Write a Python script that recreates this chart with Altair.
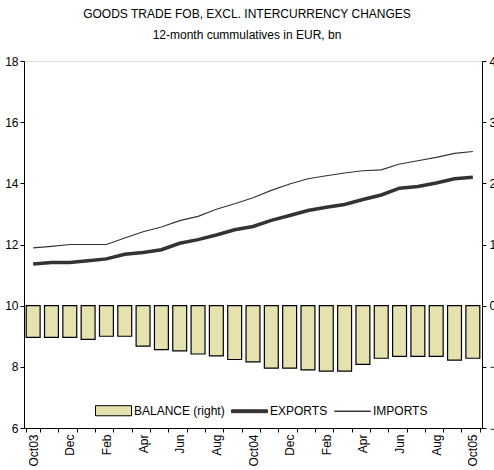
import altair as alt
import pandas as pd

months = ["Oct03", "Nov03", "Dec03", "Jan04", "Feb04", "Mar04", "Apr04", "May04",
          "Jun04", "Jul04", "Aug04", "Sep04", "Oct04", "Nov04", "Dec04", "Jan05",
          "Feb05", "Mar05", "Apr05", "May05", "Jun05", "Jul05", "Aug05", "Sep05", "Oct05"]
tick_labels = ["Oct03", "", "Dec", "", "Feb", "", "Apr", "", "Jun", "", "Aug", "",
               "Oct04", "", "Dec", "", "Feb", "", "Apr", "", "Jun", "", "Aug", "", "Oct05"]
exports = [11.36, 11.41, 11.41, 11.47, 11.53, 11.68, 11.74, 11.83, 12.04, 12.16, 12.31, 12.48,
           12.59, 12.79, 12.95, 13.11, 13.22, 13.31, 13.47, 13.62, 13.84, 13.90, 14.01, 14.15, 14.20]
imports = [11.89, 11.94, 12.00, 12.00, 12.00, 12.21, 12.42, 12.57, 12.78, 12.92, 13.15, 13.33,
           13.53, 13.77, 13.98, 14.15, 14.25, 14.34, 14.41, 14.44, 14.63, 14.74, 14.85, 14.98, 15.04]
balance = [-0.52, -0.52, -0.52, -0.55, -0.50, -0.50, -0.66, -0.72, -0.74, -0.79, -0.82, -0.88,
           -0.92, -1.02, -1.02, -1.05, -1.07, -1.07, -0.96, -0.86, -0.83, -0.83, -0.83, -0.89, -0.86]
series_names = ["BALANCE (right)", "EXPORTS", "IMPORTS"]
left_ticks = [6, 8, 10, 12, 14, 16, 18]
right_ticks = [-2, -1, 0, 1, 2, 3, 4]

rows = []
for i, m in enumerate(months):
    rows.append({"idx": i, "month": m, "series": series_names[0], "value": balance[i]})
    rows.append({"idx": i, "month": m, "series": series_names[1], "value": exports[i]})
    rows.append({"idx": i, "month": m, "series": series_names[2], "value": imports[i]})
df = pd.DataFrame(rows)

FONT = "Liberation Sans"
BAR_FILL = "#E6E2B0"
LINE_COLOR = "#333333"

label_expr = "[" + ",".join("'%s'" % t for t in tick_labels) + "][datum.value]"

x_enc = alt.X(
    "idx:O",
    scale=alt.Scale(paddingInner=0.24, paddingOuter=0.12),
    axis=alt.Axis(title=None, labelExpr=label_expr, labelAngle=270, labelAlign="right",
                  labelBaseline="middle", tickBand="extent", tickSize=4, labelPadding=2,
                  domainColor="black", tickColor="black", labelColor="black",
                  labelFont=FONT, labelFontSize=12, grid=False),
)

bars = alt.Chart(df).transform_filter(
    alt.datum.series == series_names[0]
).mark_bar(fill=BAR_FILL, stroke="black", strokeWidth=1.2).encode(
    x=x_enc,
    y=alt.Y("value:Q", scale=alt.Scale(domain=[-2, 4], nice=False, zero=False),
            axis=alt.Axis(orient="right", values=right_ticks, title=None, grid=False,
                          tickSize=4, labelPadding=3, domainColor="black", tickColor="black",
                          labelColor="black", labelFont=FONT, labelFontSize=12)),
)

lines = alt.Chart(df).transform_filter(
    alt.datum.series != series_names[0]
).mark_line(color=LINE_COLOR).encode(
    x=x_enc,
    y=alt.Y("value:Q", scale=alt.Scale(domain=[6, 18], nice=False, zero=False),
            axis=alt.Axis(orient="left", values=left_ticks, title=None, grid=False,
                          tickSize=4, labelPadding=2, domainColor="black", tickColor="black",
                          labelColor="black", labelFont=FONT, labelFontSize=12)),
    detail="series:N",
    strokeWidth=alt.StrokeWidth("series:N",
                                scale=alt.Scale(domain=series_names[1:], range=[3.5, 1.1]),
                                legend=None),
)

legend_def = alt.Legend(
    title=None, orient="none", legendX=71, legendY=331, direction="horizontal", columns=3,
    symbolSize=1296, symbolStrokeWidth=1, symbolOpacity=1,
    labelFont=FONT, labelFontSize=12, labelColor="black", labelOffset=2, columnPadding=4,
    padding=0, labelLimit=300,
)

leg = alt.Chart(df).mark_point(opacity=0, strokeWidth=1).encode(
    x=alt.value(0),
    y=alt.value(0),
    fill=alt.Fill("series:N",
                  scale=alt.Scale(domain=series_names, range=[BAR_FILL, LINE_COLOR, LINE_COLOR]),
                  legend=legend_def),
    stroke=alt.Stroke("series:N",
                      scale=alt.Scale(domain=series_names, range=["#000000", LINE_COLOR, LINE_COLOR]),
                      legend=legend_def),
    shape=alt.Shape("series:N",
                    scale=alt.Scale(domain=series_names,
                                    range=["M-1,-0.28H1V0.28H-1Z",
                                           "M-1,-0.08H1V0.08H-1Z",
                                           "M-1,-0.01H1V0.01H-1Z"]),
                    legend=legend_def),
)

chart = alt.layer(bars, lines, leg).resolve_scale(y="independent").properties(
    width=458,
    height=367,
    autosize=alt.AutoSizeParams(type="none"),
    padding={"left": 24, "top": 61, "right": 12, "bottom": 42},
    title=alt.TitleParams(
        text=["GOODS TRADE FOB, EXCL. INTERCURRENCY CHANGES", "12-month cummulatives in EUR, bn"],
        font=FONT, fontSize=12, fontWeight="normal", color="black", lineHeight=21,
        anchor="middle", offset=10, dx=-6, dy=-3,
    ),
).configure_view(stroke="black", strokeWidth=1).configure(background="white")

chart.save("out.html", embed_options={"renderer": "svg", "actions": False})
